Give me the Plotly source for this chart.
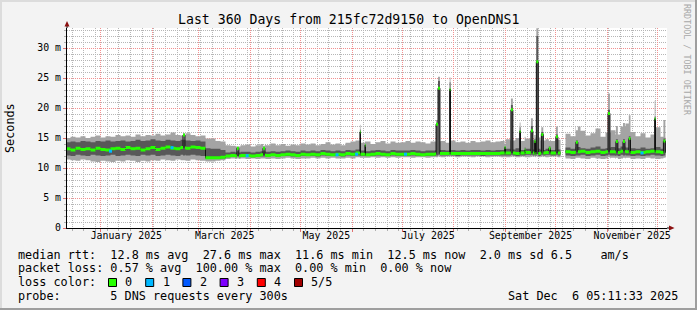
import pandas as pd
import plotly.graph_objects as go

# ---------------- data (values in ms) ----------------
RANGE_START = "2024-12-11 21:36"
RANGE_END = "2025-12-06 21:36"
SAMPLE_START = "2024-12-11"          # 3-day consolidated samples
SAMPLE_FREQ = "3D"

smoke_max = [
    15.0, 15.2, 15.1, 15.3, 15.0, 15.2, 15.4, 15.1, 15.3, 15.2, 15.5, 15.3, 15.4, 15.2,
    15.6, 15.3, 15.5, 15.4, 15.7, 15.4, 15.6, 15.9, 15.5, 15.4, 15.8, 15.5, 15.3, 15.4,
    14.9, 14.9, 14.5, 14.4,
    13.8, 13.7, 13.6, 13.8, 13.9, 13.6, 13.8, 14.0, 13.8,
    14.1, 13.8, 14.0, 13.7, 13.9, 13.8, 14.1,
    13.9, 14.1, 13.8, 14.0, 14.3, 13.9, 14.1, 13.8, 14.2, 14.4,
    14.6, 14.2, 14.4, 14.0, 14.3, 14.5, 14.1, 14.4, 14.2, 14.3,
    14.5, 14.2, 14.4, 14.3, 14.1, 14.4,
    14.4, 14.5, 14.2, 14.6, 14.3, 14.4, 14.2, 14.5, 14.3, 14.4, 14.6, 14.3, 14.4, 14.5,
    14.8, 14.6, 15.0, 14.5, 14.9, 14.7, 15.1, 14.6, 14.8, 14.5, 14.7,
    None,
    15.7, 15.3, 16.9, 16.2, 15.4, 15.8, 16.6, 15.2, 15.9, 16.3, 15.6, 16.9, 17.4, 16.0,
    15.3, 15.8, 15.1, 15.6, 16.8, 15.2, 15.5,
]
smoke_q3 = [
    14.3, 14.4, 14.3, 14.5, 14.4, 14.3, 14.5, 14.4, 14.6, 14.4, 14.5, 14.6, 14.4, 14.5,
    14.7, 14.5, 14.6, 14.8, 14.6, 14.5, 14.7, 14.6, 14.5, 14.7, 14.6, 14.5, 14.6, 14.4,
    13.3, 13.2, 13.2, 13.0,
    12.6, 12.7, 12.6, 12.7, 12.7, 12.6, 12.7, 12.8, 12.7,
    12.8, 12.7, 12.8, 12.9, 12.8, 12.7, 12.9,
    12.8, 12.9, 12.8, 13.0, 12.9, 12.8, 12.9, 12.8, 13.0, 12.9,
    13.1, 12.9, 12.8, 12.9, 13.0, 12.9, 12.8, 13.0, 12.9, 12.9,
    12.9, 13.0, 12.9, 12.8, 12.9, 12.9,
    13.0, 13.0, 12.9, 13.0, 12.9, 13.0, 12.9, 13.0, 13.0, 12.9, 13.0, 12.9, 13.0, 13.0,
    13.2, 13.1, 13.3, 13.0, 13.2, 13.1, 13.2, 13.0, 13.2, 13.0, 13.1,
    None,
    13.4, 13.2, 13.5, 13.3, 13.2, 13.4, 13.6, 13.2, 13.3, 13.5, 13.3, 13.6, 13.4, 13.3,
    13.2, 13.4, 13.2, 13.3, 13.5, 13.2, 13.3,
]
median_rtt = [
    13.2, 13.0, 13.3, 13.1, 13.2, 13.0, 13.3, 13.1, 13.0, 13.2, 13.3, 13.1, 13.4, 13.2,
    13.3, 13.0, 13.2, 13.4, 13.1, 13.3, 13.5, 13.3, 13.2, 13.4, 13.3, 13.5, 13.4, 13.3,
    11.7, 11.7, 11.7, 11.8,
    12.0, 12.1, 12.0, 12.1, 12.1, 12.0, 12.1, 12.2, 12.1,
    12.2, 12.1, 12.2, 12.3, 12.2, 12.1, 12.3,
    12.2, 12.3, 12.2, 12.4, 12.3, 12.2, 12.3, 12.2, 12.4, 12.3,
    12.5, 12.3, 12.2, 12.3, 12.4, 12.3, 12.2, 12.4, 12.3, 12.3,
    12.3, 12.4, 12.3, 12.2, 12.3, 12.3,
    12.4, 12.4, 12.4, 12.4, 12.4, 12.4, 12.4, 12.4, 12.4, 12.4, 12.4, 12.4, 12.4, 12.5,
    12.5, 12.5, 12.4, 12.5, 12.6, 12.5, 12.4, 12.5, 12.6, 12.5, 12.5,
    None,
    12.7, 12.6, 12.7, 12.8, 12.6, 12.7, 12.8, 12.6, 12.7, 12.7, 12.6, 12.8, 12.7, 12.6,
    12.7, 12.6, 12.7, 12.8, 12.7, 12.6, 12.7,
]
smoke_q1 = [
    12.1, 12.0, 12.2, 12.1, 12.0, 12.2, 12.1, 12.0, 12.1, 12.2, 12.0, 12.1, 12.2, 12.1,
    12.0, 12.2, 12.1, 12.2, 12.0, 12.1, 12.2, 12.1, 12.0, 12.2, 12.1, 12.2, 12.1, 12.0,
    11.5, 11.5, 11.5, 11.6,
    11.8, 11.9, 11.8, 11.9, 11.9, 11.8, 11.9, 11.9, 11.9,
    12.0, 11.9, 12.0, 12.0, 11.9, 11.9, 12.0,
    12.0, 12.0, 11.9, 12.1, 12.0, 12.0, 12.0, 11.9, 12.1, 12.0,
    12.1, 12.0, 12.0, 12.0, 12.1, 12.0, 12.0, 12.1, 12.0, 12.0,
    12.0, 12.1, 12.0, 12.0, 12.0, 12.0,
    12.1, 12.1, 12.1, 12.1, 12.0, 12.1, 12.1, 12.1, 12.1, 12.0, 12.1, 12.1, 12.1, 12.1,
    12.1, 12.1, 12.0, 12.1, 12.2, 12.1, 12.0, 12.1, 12.2, 12.1, 12.1,
    None,
    12.1, 12.0, 12.1, 12.2, 12.0, 12.1, 12.2, 12.0, 12.1, 12.1, 12.0, 12.2, 12.1, 12.0,
    12.1, 12.0, 12.1, 12.2, 12.1, 12.0, 12.1,
]
smoke_min = [
    11.4, 11.3, 11.2, 11.4, 11.3, 11.1, 11.0, 11.2, 11.1, 11.0, 11.2, 11.1, 11.3, 11.2,
    11.0, 11.2, 11.1, 11.3, 11.2, 11.4, 11.3, 11.2, 11.4, 11.3, 11.2, 11.4, 11.3, 11.2,
    11.1, 11.1, 11.2, 11.3,
    11.5, 11.6, 11.5, 11.6, 11.5, 11.6, 11.5, 11.6, 11.5,
    11.6, 11.5, 11.6, 11.7, 11.6, 11.5, 11.6,
    11.6, 11.7, 11.6, 11.7, 11.6, 11.7, 11.6, 11.6, 11.7, 11.6,
    11.8, 11.7, 11.7, 11.8, 11.7, 11.8, 11.7, 11.8, 11.7, 11.8,
    11.8, 11.7, 11.8, 11.8, 11.7, 11.8,
    11.9, 11.8, 11.9, 11.9, 11.8, 11.9, 11.9, 11.8, 11.9, 11.9, 11.8, 11.9, 11.9, 11.8,
    11.8, 11.9, 11.8, 11.9, 11.8, 11.9, 11.8, 11.9, 11.8, 11.9, 11.8,
    None,
    11.6, 11.5, 11.7, 11.6, 11.5, 11.7, 11.6, 11.5, 11.6, 11.7, 11.5, 11.6, 11.7, 11.5,
    11.6, 11.5, 11.7, 11.6, 11.5, 11.6, 11.6,
]

# short-lived latency spikes (start time, min, q1, q3, max, median)
spike_time = [
    "2025-02-19 12:00", "2025-03-23 20:00", "2025-04-08 12:00", "2025-06-05 16:00",
    "2025-06-08 16:00", "2025-07-21 08:00", "2025-07-22 12:00", "2025-07-29 12:00",
    "2025-08-31 12:00", "2025-09-04 06:00", "2025-09-09 12:00", "2025-09-12 12:00",
    "2025-09-16 06:00", "2025-09-18 08:00", "2025-09-19 12:00", "2025-09-22 12:00",
    "2025-09-27 00:00", "2025-10-01 06:00", "2025-10-13 06:00", "2025-11-01 12:00",
    "2025-11-06 06:00", "2025-11-10 12:00", "2025-11-14 00:00", "2025-11-29 12:00",
    "2025-12-04 18:00",
]
spike_min = [11.3, 11.6, 11.6, 11.7, 11.7, 11.8, 11.9, 11.9, 11.9, 11.9, 11.8, 11.8, 11.9,
             11.9, 12.0, 11.9, 11.9, 11.9, 11.7, 11.8, 11.7, 11.7, 11.7, 11.7, 11.7]
spike_q1 = [12.1, 11.9, 11.9, 12.0, 12.0, 12.1, 12.2, 12.2, 12.1, 12.2, 12.1, 12.1, 12.2,
            12.2, 12.3, 12.2, 12.2, 12.2, 12.1, 12.2, 12.1, 12.1, 12.1, 12.1, 12.1]
spike_q3 = [14.7, 12.8, 12.8, 16.4, 13.9, 17.5, 24.5, 24.3, 13.6, 20.5, 16.8, 13.4, 17.0,
            14.8, 32.0, 16.0, 13.6, 15.6, 14.6, 19.7, 14.8, 14.8, 15.3, 18.6, 14.9]
spike_max = [15.8, 13.6, 13.7, 17.2, 14.4, 18.0, 25.2, 25.1, 14.0, 21.6, 17.6, 15.2, 18.3,
             15.5, 33.3, 16.8, 14.5, 16.9, 16.3, 22.4, 17.0, 17.5, 18.8, 21.2, 18.0]
spike_median = [15.5, 13.3, 13.3, 16.0, 13.8, 17.3, 23.3, 23.1, 13.4, 19.7, 16.1, 13.0, 16.2,
                14.4, 27.7, 15.6, 13.3, 15.2, 14.3, 19.1, 14.4, 14.4, 14.9, 18.2, 14.5]
SPIKE_HOURS = 28

# samples with 1 of 5 pings lost
loss1_time = ["2025-01-07 00:00", "2025-02-12 22:00", "2025-03-30 00:00", "2025-05-22 22:00",
              "2025-06-03 16:00", "2025-07-03 00:00", "2025-11-21 22:00"]
loss1_median = [12.8, 13.4, 12.05, 12.2, 12.3, 12.3, 12.5]

month_label_time = ["2025-01-16 12:00", "2025-03-16 12:00", "2025-05-16 12:00",
                    "2025-07-16 12:00", "2025-09-16 00:00", "2025-11-16 00:00"]
month_label_text = ["January 2025", "March 2025", "May 2025", "July 2025",
                    "September 2025", "November 2025"]

y_tick_vals = [0, 5, 10, 15, 20, 25, 30]
y_tick_text = ["0", "5 m", "10 m", "15 m", "20 m", "25 m", "30 m"]

loss_labels = ["0", "1", "2", "3", "4", "5/5"]
loss_colors = ["#26ff00", "#00b8ff", "#0059ff", "#7e00ff", "#ff0000", "#a10000"]

legend_lines = [
    "median rtt:  12.8 ms avg  27.6 ms max  11.6 ms min  12.5 ms now  2.0 ms sd 6.5    am/s",
    "packet loss: 0.57 % avg  100.00 % max  0.00 % min  0.00 % now",
]
probe_text = "probe:       5 DNS requests every 300s"
stamp_text = "Sat Dec  6 05:11:33 2025"
title_text = "Last 360 Days from 215fc72d9150 to OpenDNS1"

# ---------------- assemble series ----------------
cols = ["lo", "q1", "med", "q3", "hi"]
base = pd.DataFrame({
    "t": pd.date_range(SAMPLE_START, periods=len(median_rtt), freq=SAMPLE_FREQ),
    "lo": smoke_min, "q1": smoke_q1, "med": median_rtt, "q3": smoke_q3, "hi": smoke_max,
}).astype({c: float for c in cols})
spk = pd.DataFrame({
    "t": pd.to_datetime(spike_time),
    "lo": spike_min, "q1": spike_q1, "med": spike_median, "q3": spike_q3, "hi": spike_max,
})
b_idx = base.set_index("t")
end_t = spk["t"] + pd.Timedelta(hours=SPIKE_HOURS)
ends = b_idx.reindex(end_t, method="ffill").reset_index()
ends.columns = ["t"] + list(b_idx.columns)
df = pd.concat([base, ends, spk], ignore_index=True)
df = df.drop_duplicates("t", keep="last").sort_values("t").reset_index(drop=True)

segments, cur = [], []
for rec in df.to_dict("records"):
    if pd.isna(rec["med"]):
        if cur:
            close = dict(cur[-1]); close["t"] = rec["t"]; cur.append(close)
            segments.append(pd.DataFrame(cur)); cur = []
    else:
        cur.append(rec)
if cur:
    segments.append(pd.DataFrame(cur))

LIGHT = "#a4a4a4"
DARK = "#585858"
BAND = 0.25

fig = go.Figure()


def band(x, lo, hi, color):
    fig.add_trace(go.Scatter(x=x, y=lo, mode="lines", line=dict(width=0, shape="hv"),
                             hoverinfo="skip", showlegend=False))
    fig.add_trace(go.Scatter(x=x, y=hi, mode="lines", line=dict(width=0, shape="hv"),
                             fill="tonexty", fillcolor=color, hoverinfo="skip",
                             showlegend=False))


for s in segments:
    band(s["t"], s["lo"], s["hi"], LIGHT)
    band(s["t"], s["q1"], s["q3"], DARK)
for s in segments:
    fig.add_trace(go.Scatter(x=s["t"], y=s["med"], mode="lines",
                             line=dict(width=1, color="#101010", shape="hv"),
                             hoverinfo="skip", showlegend=False))
for s in segments:
    band(s["t"], s["med"] - BAND, s["med"] + BAND, loss_colors[0])

fig.add_trace(go.Scatter(x=pd.to_datetime(loss1_time), y=loss1_median, mode="markers",
                         marker=dict(symbol="square", size=3, color=loss_colors[1],
                                     line=dict(width=0)),
                         hoverinfo="skip", showlegend=False))

# invisible traces that switch on the overlay axes
for xa, ya in (("x2", "y"), ("x3", "y"), ("x", "y2")):
    fig.add_trace(go.Scatter(x=[RANGE_START], y=[None], xaxis=xa, yaxis=ya,
                             showlegend=False, hoverinfo="skip"))

# ---------------- layout ----------------
W, H = 697, 310
L, R, T, B = 67, 30, 28, 82
PW, PH = W - L - R, H - T - B
FONT = "DejaVu Sans Mono"
Y_TOP = PH / 6


def px(x):
    return (x - L) / PW


def py(y):
    return (T + PH - y) / PH


MAJ = "#f29090"
MIN = "#b6b6b6"
DOT = "1px,1px"
TF = dict(family=FONT, size=9.9, color="#000000")

fig.update_layout(
    width=W, height=H,
    margin=dict(l=L, r=R, t=T, b=B, pad=0, autoexpand=False),
    paper_bgcolor="#f3f3f3", plot_bgcolor="#ffffff",
    font=dict(family=FONT, size=10, color="#000000"),
    showlegend=False,
    # weekly minor grid
    xaxis=dict(
        type="date", range=[RANGE_START, RANGE_END], fixedrange=True,
        tickmode="linear", dtick=7 * 86400000, tick0="2024-12-15",
        showticklabels=False, showgrid=True, gridcolor=MIN, griddash=DOT, gridwidth=1,
        ticks="outside", ticklen=2, tickcolor="#b0b0b0",
        showline=True, linecolor="#000000", linewidth=1, zeroline=False,
    ),
    # monthly major grid
    xaxis2=dict(
        type="date", range=[RANGE_START, RANGE_END], overlaying="x", anchor="y",
        side="bottom", tickmode="linear", dtick="M1", tick0="2025-01-01",
        showticklabels=False, showgrid=True, gridcolor=MAJ, griddash=DOT, gridwidth=1,
        ticks="outside", ticklen=3, tickcolor="#e07070", showline=False,
        zeroline=False, fixedrange=True,
    ),
    # month labels
    xaxis3=dict(
        type="date", range=[RANGE_START, RANGE_END], overlaying="x", anchor="y",
        side="bottom", tickmode="array", tickvals=pd.to_datetime(month_label_time),
        ticktext=month_label_text, showgrid=False, ticks="", showline=False,
        zeroline=False, tickfont=TF, fixedrange=True,
    ),
    # 1 ms minor grid
    yaxis=dict(
        range=[0, Y_TOP], fixedrange=True, tickmode="linear", dtick=1, tick0=0,
        showticklabels=False, showgrid=True, gridcolor=MIN, griddash=DOT, gridwidth=1,
        ticks="outside", ticklen=2, tickcolor="#b0b0b0",
        showline=True, linecolor="#000000", linewidth=1, zeroline=False,
    ),
    # 5 ms major grid with labels
    yaxis2=dict(
        range=[0, Y_TOP], overlaying="y", anchor="x", side="left", fixedrange=True,
        tickmode="array", tickvals=y_tick_vals, ticktext=y_tick_text, tickfont=TF,
        showgrid=True, gridcolor=MAJ, griddash=DOT, gridwidth=1,
        ticks="outside", ticklen=3, tickcolor="#e07070", showline=False, zeroline=False,
    ),
)

shapes = []
ARROW = "#8b1010"
shapes.append(dict(type="line", xref="paper", yref="paper", x0=px(667), x1=px(671),
                   y0=py(228), y1=py(228), line=dict(color="#000000", width=1)))
shapes.append(dict(type="path", xref="paper", yref="paper",
                   path=f"M {px(669)},{py(225.5)} L {px(674.5)},{py(228)} L {px(669)},{py(230.5)} Z",
                   fillcolor=ARROW, line=dict(width=0)))
shapes.append(dict(type="line", xref="paper", yref="paper", x0=px(67), x1=px(67),
                   y0=py(28), y1=py(24), line=dict(color="#000000", width=1)))
shapes.append(dict(type="path", xref="paper", yref="paper",
                   path=f"M {px(64.5)},{py(26.5)} L {px(67)},{py(21)} L {px(69.5)},{py(26.5)} Z",
                   fillcolor=ARROW, line=dict(width=0)))
SHA, SHB = "#dcdcdc", "#9e9e9e"
shapes.append(dict(type="rect", xref="paper", yref="paper", x0=px(0), x1=px(697),
                   y0=py(2), y1=py(0), fillcolor=SHA, line=dict(width=0)))
shapes.append(dict(type="rect", xref="paper", yref="paper", x0=px(0), x1=px(2),
                   y0=py(310), y1=py(0), fillcolor=SHA, line=dict(width=0)))
shapes.append(dict(type="rect", xref="paper", yref="paper", x0=px(0), x1=px(697),
                   y0=py(310), y1=py(308), fillcolor=SHB, line=dict(width=0)))
shapes.append(dict(type="rect", xref="paper", yref="paper", x0=px(695), x1=px(697),
                   y0=py(310), y1=py(0), fillcolor=SHB, line=dict(width=0)))
for k, c in enumerate(loss_colors):
    x0 = 108.5 + 37.2 * k
    shapes.append(dict(type="rect", xref="paper", yref="paper", x0=px(x0), x1=px(x0 + 8),
                       y0=py(286.5), y1=py(278.5), fillcolor=c,
                       line=dict(color="#000000", width=1)))
fig.update_layout(shapes=shapes)

ann = []


def text(x, y, s, size=11.8, xanchor="left", color="#000000", angle=0):
    ann.append(dict(xref="paper", yref="paper", x=px(x), y=py(y), text=s, showarrow=False,
                    xanchor=xanchor, yanchor="middle", textangle=angle,
                    font=dict(family=FONT, size=size, color=color)))


text(348.5, 19, title_text, size=13.2, xanchor="center")
text(10, 128, "Seconds", size=11.8, xanchor="center", angle=-90)
text(687, 60, "RRDTOOL / TOBI OETIKER", size=8.4, xanchor="center", color="#a8a8a8", angle=90)
text(16, 254.5, legend_lines[0].replace(" ", "&nbsp;"))
text(16, 268.3, legend_lines[1].replace(" ", "&nbsp;"))
text(16, 282, "loss&nbsp;color:")
for k, lab in enumerate(loss_labels):
    text(123.3 + 37.2 * k, 282, lab)
text(16, 296, probe_text.replace(" ", "&nbsp;"))
text(680, 296, stamp_text.replace(" ", "&nbsp;"), xanchor="right")
fig.update_layout(annotations=ann)

fig.write_html("out.html", config={"displayModeBar": False})
